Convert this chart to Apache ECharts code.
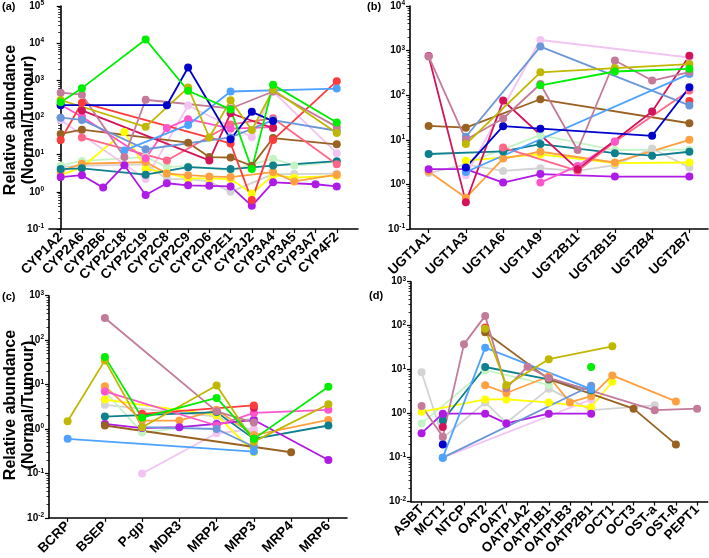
<!DOCTYPE html>
<html><head><meta charset="utf-8">
<script src="https://cdn.jsdelivr.net/npm/echarts@6/dist/echarts.min.js"></script>
<style>html,body{margin:0;padding:0;background:#fff}#c{width:709px;height:558px}</style>
</head><body><div id="c"></div>
<script>
const n = null;
const catsA = ['CYP1A2','CYP2A6','CYP2B6','CYP2C18','CYP2C19','CYP2C8','CYP2C9','CYP2D6','CYP2E1','CYP2J2','CYP3A4','CYP3A5','CYP3A7','CYP4F2'];
const catsB = ['UGT1A1','UGT1A3','UGT1A6','UGT1A9','UGT2B11','UGT2B15','UGT2B4','UGT2B7'];
const catsC = ['BCRP','BSEP','P-gp','MDR3','MRP2','MRP3','MRP4','MRP6'];
const catsD = ['ASBT','MCT1','NTCP','OAT2','OAT7','OATP1A2','OATP1B1','OATP1B3','OATP2B1','OCT1','OCT3','OST-a','OST-ß','PEPT1'];

const colors = {
  grey:'#d3d3d3', mint:'#c4f4c4', lavender:'#f2c4f2', yellow:'#ffff00', orange:'#ffa040',
  teal:'#0e7f8c', purple:'#b01ae6', brown:'#9a6222', salmon:'#ff6688', pink:'#ff55cc',
  crimson:'#d4145a', red:'#ff3b3b', steelblue:'#6b96d8', lightblue:'#4da3ff',
  mauve:'#c47a9a', olive:'#c0b800', darkblue:'#0000cc', green:'#00ee00'
};

const valsA = {
  grey:     [4.7, 5, n, n, 5.5, 2.2, 2.2, 1.9, 1.0, n, 3, 3, n, 3.1],
  mint:     [5.1, 6.8, n, n, 8.6, 4.7, 4.9, n, 3.8, n, 7.8, 5.1, n, 6.4],
  lavender: [86, n, n, n, 2.2, n, 210, n, n, 30, 500, n, n, 11],
  yellow:   [2.8, 4.6, n, 41, 4.2, 3.2, 2.3, 2.3, 2.2, 0.9, 2.8, 2.4, n, 2.7],
  orange:   [3.6, 5.7, n, n, 6.3, 3.1, 2.8, 2.6, 2.5, n, 3.4, 1.9, n, 2.9],
  teal:     [4.1, 4.3, n, n, 2.9, n, 4.6, n, 4.1, n, 5.1, n, n, 6.7],
  purple:   [2.5, 2.8, 1.3, 5.2, 0.82, 1.7, 1.5, 1.45, 1.4, 0.42, 1.8, n, 1.6, 1.4],
  brown:    [36, 47, n, n, n, n, 21, 8.6, 8.4, 5, 28, n, n, 19],
  salmon:   [n, 29, n, n, n, 7, n, n, 65, n, 95, n, n, 5.5],
  pink:     [220, 105, n, n, 8, 52, 90, n, 50, n, 55, n, n, n],
  crimson:  [n, 155, n, n, n, n, n, 7, 130, n, 52, n, n, n],
  red:      [25, 250, n, n, n, n, n, n, 20, 0.6, 25, n, n, 950],
  steelblue:[99, 86, n, n, 14, n, n, n, 29, n, 85, n, n, 44],
  lightblue:[n, n, n, 13, n, n, 63, n, 500, n, n, n, n, 600],
  mauve:    [464, 410, n, 8.7, 300, n, n, n, 175, n, 500, n, n, 56],
  olive:    [296, n, n, n, 56, n, 640, 29, 290, 46, 555, n, n, 38],
  darkblue: [214, n, n, n, n, 214, 2220, n, 26, 142, 80, n, n, n],
  green:    [257, 617, n, n, 12600, n, 525, n, 165, 4.1, 755, n, n, 73]
};

const valsB = {
  grey:     [1.8, 2.8, 2.0, 2.3, 2.0, 2.7, 6.4, 2.4],
  mint:     [n, 3, n, 12.7, n, 5.9, n, 6],
  lavender: [n, 1.6, n, 1730, n, n, n, 700],
  yellow:   [n, 3.4, n, 4.7, n, 3.0, n, 3.1],
  orange:   [1.95, 0.5, 3.8, 5.4, n, 3.1, n, 10],
  teal:     [4.8, n, 5.5, 8, n, 5.0, 4.4, 5.4],
  purple:   [2.2, 2.2, 1.1, 1.7, n, 1.5, n, 1.5],
  brown:    [20.5, 18.7, n, 81, n, n, n, 23.5],
  salmon:   [n, n, 6.7, n, 2.0, 9, n, 127],
  pink:     [n, n, n, 1.1, 2.6, 9.2, n, n],
  crimson:  [760, 0.4, 76, n, 2.2, n, 43, 770],
  red:      [n, n, n, n, n, n, n, 74],
  steelblue:[n, 11.7, n, 1230, n, n, n, 59],
  lightblue:[n, 1.9, n, n, n, n, n, 300],
  mauve:    [740, 10, 30, 178, 5.9, 600, 213, 330],
  olive:    [n, 8, n, 325, n, 405, n, 500],
  darkblue: [n, 2.4, 20.2, 17.8, n, n, 12.3, 150],
  green:    [n, n, n, 167, n, 340, n, 390]
};

const valsC = {
  grey:     [n, 3.5, n, n, 1.9, 0.9, n, n],
  mint:     [n, 7, 0.83, n, n, 1.7, n, n],
  lavender: [n, n, 0.1, n, 0.8, 1.0, n, n],
  yellow:   [n, 4.6, n, n, 2.05, 0.3, n, n],
  orange:   [n, 9.2, 1.55, 1.55, 2.7, 0.73, n, 1.6],
  teal:     [n, 1.9, n, n, 2.4, 0.6, n, 1.2],
  purple:   [n, 1.3, 1.05, 1.1, 1.3, 1.6, n, 0.2],
  brown:    [n, 1.2, n, n, n, n, 0.3, n],
  pink:     [n, 7, n, n, 1.2, 2.3, n, 2.7],
  crimson:  [n, n, n, n, n, 3.0, n, n],
  red:      [n, n, 2.2, n, n, 3.4, n, n],
  steelblue:[n, n, 1.1, n, 1.0, 0.4, n, n],
  lightblue:[0.6, n, n, n, n, 0.31, n, n],
  mauve:    [n, 315, n, n, 2.5, 1.4, n, n],
  olive:    [1.5, 35, 1.1, n, 9.5, 0.52, n, 3.6],
  green:    [n, 42, 1.8, n, 5, 0.6, n, 8.9]
};

const valsD = {
  grey:     [8.7, 0.28, n, 1.8, 0.62, n, 3.7, n, 1.2, n, n, 1.55, n, n],
  mint:     [0.6, n, n, 9.7, n, n, 4.5, n, n, n, n, n, n, n],
  lavender: [n, 0.1, n, n, n, n, n, n, 2.1, n, n, n, n, n],
  yellow:   [1.1, n, n, 2.1, 2.1, n, 1.8, n, 1.4, 5.3, n, n, n, n],
  orange:   [n, n, n, 4.4, 2.95, n, 7, 1.8, 2.5, 7.4, n, n, 1.9, n],
  teal:     [n, 0.7, n, 11.5, n, n, 6, n, 3.4, n, n, n, n, n],
  purple:   [0.36, 1.0, n, 1.0, 0.6, n, 1.0, n, 1.0, n, n, n, n, n],
  brown:    [n, n, n, 71, n, n, 6.1, n, n, n, 1.3, n, 0.2, n],
  crimson:  [n, 0.5, n, n, n, n, n, n, n, n, n, n, n, n],
  red:      [n, n, n, 91, n, n, n, n, n, n, n, n, n, n],
  steelblue:[n, 0.1, n, n, n, n, n, n, 4.3, n, n, n, n, n],
  lightblue:[n, 0.1, n, 31.6, n, n, n, n, 3.6, n, n, n, n, n],
  mauve:    [1.5, 0.3, 38, 167, 3.8, 11.7, 6.5, n, n, n, n, 1.2, n, 1.3],
  olive:    [n, n, n, 85, 4.4, n, 17.3, n, n, 34, n, n, n, n],
  darkblue: [n, 0.2, n, n, n, n, n, n, n, n, n, n, n, n],
  green:    [n, n, n, n, n, n, n, n, 11.5, n, n, n, n, n]
};

const FONT = '"Liberation Sans", Arial, sans-serif';
const grids = [
  {left:49, top:4.5, width:309, height:224.5},
  {left:410, top:4, width:298, height:225},
  {left:49, top:295.7, width:298, height:225},
  {left:411, top:281.7, width:296.7, height:222.6}
];
const yRanges = [[0.1,1e5],[0.1,1e4],[0.01,1e3],[0.01,1e3]];

function yAxis(i){
  return {
    type:'log', logBase:10, gridIndex:i, min:yRanges[i][0], max:yRanges[i][1],
    axisLine:{show:true, lineStyle:{color:'#000', width:1.6}},
    axisTick:{show:true, length:4, lineStyle:{color:'#000', width:1.2}},
    minorTick:{show:true, splitNumber:9, length:2.5, lineStyle:{color:'#000', width:0.8}},
    splitLine:{show:false},
    axisLabel:{
      margin:5, color:'#000',
      formatter: v => '{b|10}{s|' + Math.round(Math.log10(v)) + '}',
      rich:{ b:{fontFamily:FONT, fontWeight:'bold', fontSize:10, color:'#000'},
             s:{fontFamily:FONT, fontWeight:'bold', fontSize:6.5, color:'#000', verticalAlign:'top', padding:[0,0,5,0]} }
    }
  };
}
const xLabel = {rotate:45, interval:0, margin:6, color:'#000', fontFamily:FONT, fontWeight:'bold', fontSize:13.5};
const xLine = {show:true, lineStyle:{color:'#000', width:1.6}};
const xTick = {show:true, length:4, alignWithLabel:true, lineStyle:{color:'#000', width:1.2}};

const idxA = catsA.map((c,i)=>i);
const xAxes = [
  {type:'value', gridIndex:0, min:-0.55, max:14, splitLine:{show:false}, axisLine:xLine,
   axisTick:Object.assign({}, xTick, {customValues:idxA}),
   axisLabel:Object.assign({}, xLabel, {customValues:idxA, formatter: v => catsA[Math.round(v)] || ''})},
  {type:'category', gridIndex:1, data:catsB, axisLine:xLine, axisTick:xTick, axisLabel:xLabel},
  {type:'category', gridIndex:2, data:catsC, axisLine:xLine, axisTick:xTick, axisLabel:xLabel},
  {type:'category', gridIndex:3, data:catsD, axisLine:xLine, axisTick:xTick, axisLabel:xLabel}
];

const series = [];
[valsA, valsB, valsC, valsD].forEach((vals, gi) => {
  Object.keys(vals).forEach(name => {
    const arr = vals[name];
    const data = gi === 0 ? arr.map((v,i)=> v==null ? null : [i, v]).filter(d => d) : arr;
    series.push({
      type:'line', name, xAxisIndex:gi, yAxisIndex:gi, data, connectNulls:true,
      symbol:'circle', symbolSize:8, showSymbol:true,
      lineStyle:{color:colors[name], width:1.8}, itemStyle:{color:colors[name]},
      emphasis:{disabled:true}, animation:false
    });
  });
});

const titleStyle = {text:'Relative abundance\n(Normal/Tumour)', font:'bold 16px ' + FONT, fill:'#000', align:'center', verticalAlign:'middle', lineHeight:18};
const graphic = [
  {type:'text', x:20, y:120, rotation:Math.PI/2, style:titleStyle},
  {type:'text', x:20, y:405, rotation:Math.PI/2, style:titleStyle},
  {type:'text', left:2, top:1, style:{text:'(a)', font:'bold 11px ' + FONT, fill:'#000'}},
  {type:'text', left:367, top:1, style:{text:'(b)', font:'bold 11px ' + FONT, fill:'#000'}},
  {type:'text', left:2, top:291, style:{text:'(c)', font:'bold 11px ' + FONT, fill:'#000'}},
  {type:'text', left:369, top:290, style:{text:'(d)', font:'bold 11px ' + FONT, fill:'#000'}}
];

const chart = echarts.init(document.getElementById('c'), null, {renderer:'canvas'});
chart.setOption({
  backgroundColor:'#fff', animation:false,
  grid: grids, xAxis: xAxes, yAxis: [0,1,2,3].map(yAxis),
  series, graphic
});
</script></body></html>
